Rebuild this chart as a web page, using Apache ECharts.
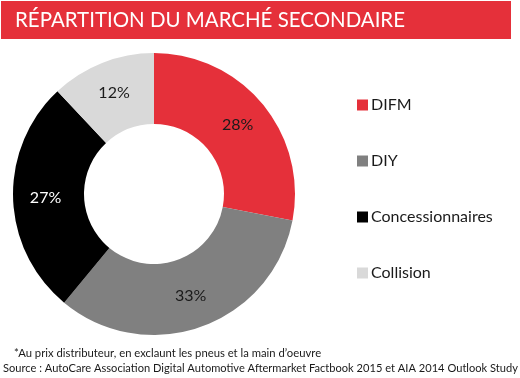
<!DOCTYPE html>
<html><head><meta charset="utf-8">
<script src="https://cdn.jsdelivr.net/npm/echarts@6/dist/echarts.min.js"></script>
<style>html,body{margin:0;padding:0;background:#fff}#c{width:520px;height:378px}</style>
</head><body><div id="c"></div>
<script>
const title = 'RÉPARTITION DU MARCHÉ SECONDAIRE';
const categories = ['DIFM', 'DIY', 'Concessionnaires', 'Collision'];
const values = [28, 33, 27, 12];
const colors = ['#E5303A', '#808080', '#000000', '#D9D9D9'];
const labelColors = ['#1a1a1a', '#1a1a1a', '#ffffff', '#1a1a1a'];
const note = '*Au prix distributeur, en exclaunt les pneus et la main d\u2019oeuvre';
const source = 'Source : AutoCare Association Digital Automotive Aftermarket Factbook 2015 et AIA 2014 Outlook Study';

const font = 'Lato, "Open Sans", sans-serif';
const chart = echarts.init(document.getElementById('c'));
chart.setOption({
  backgroundColor: '#ffffff',
  animation: false,
  color: colors,
  legend: {
    orient: 'vertical', left: 352, top: 92,
    icon: 'rect', itemWidth: 11, itemHeight: 11, itemGap: 40,
    textStyle: { fontFamily: font, fontSize: 16, color: '#1a1a1a', padding: [0,0,0,-2] },
    data: categories
  },
  graphic: [
    { type: 'rect', shape: { x: 1, y: 1, width: 510, height: 38 }, style: { fill: '#E5303A' } },
    { type: 'text', x: 15, y: 20, scaleX: 0.93, style: { text: title, fill: '#fff', font: '22px ' + font, textVerticalAlign: 'middle' } },
    { type: 'text', x: 14, y: 353, scaleX: 0.94, style: { text: note, fill: '#1a1a1a', font: '12px ' + font, textVerticalAlign: 'middle' } },
    { type: 'text', x: 3, y: 368, scaleX: 0.925, style: { text: source, fill: '#1a1a1a', font: '12px ' + font, textVerticalAlign: 'middle' } }
  ],
  series: [{
    type: 'pie',
    center: [154, 194],
    radius: [70, 141],
    startAngle: 90,
    clockwise: true,
    avoidLabelOverlap: false,
    label: {
      position: 'inside', fontFamily: font, fontSize: 16,
      formatter: p => p.value + '%'
    },
    labelLine: { show: false },
    emphasis: { disabled: true },
    data: categories.map((c, i) => ({
      name: c, value: values[i],
      label: { color: labelColors[i] }
    }))
  }]
});
</script></body></html>
